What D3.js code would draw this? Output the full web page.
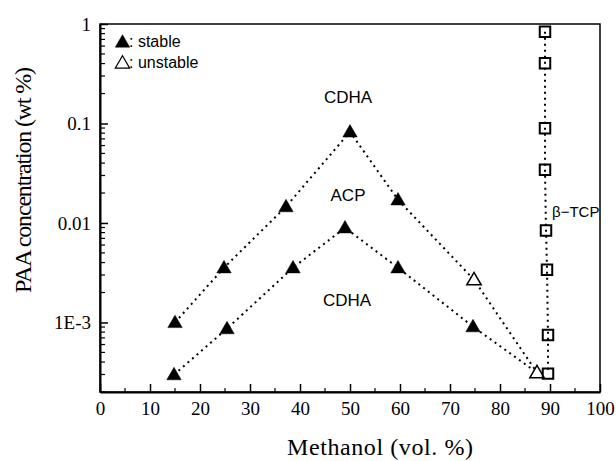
<!DOCTYPE html>
<meta charset="utf-8">
<style>
body { margin: 0; background: #fff; }
.axis text { font: 19px "Liberation Serif", serif; fill: #000; }
.axis path, .axis line { stroke: #000; }
.note { font: 17px "Liberation Sans", Arial, sans-serif; fill: #000; }
.title { font: 24px "Liberation Serif", serif; fill: #000; }
</style>
<svg id="chart"></svg>
<script src="https://d3js.org/d3.v7.min.js"></script>
<script>

// upper boundary (CDHA / ACP)
var methanolUpper = [15, 24.8, 37.2, 50, 59.6, 74.8, 87.4],
    paaUpper = [1e-3, 3.55e-3, 0.0146, 0.0824, 0.0171, 2.69e-3, 3.13e-4],
    stableUpper = [true, true, true, true, true, false, false];

// lower boundary (ACP / CDHA)
var methanolLower = [14.8, 25.4, 38.6, 49, 59.6, 74.6, 87.4],
    paaLower = [2.99e-4, 8.67e-4, 3.55e-3, 8.95e-3, 3.55e-3, 9.07e-4, 3.13e-4],
    stableLower = [true, true, true, true, true, true, false];

// beta-TCP column
var methanolTcp = [89, 89, 89, 89, 89.2, 89.4, 89.6, 89.6],
    paaTcp = [0.837, 0.403, 0.0897, 0.0342, 0.0084, 3.39e-3, 7.5e-4, 3.06e-4];

var xTicks = [0, 10, 20, 30, 40, 50, 60, 70, 80, 90, 100],
    yTicks = [1e-3, 0.01, 0.1, 1],
    yTickLabels = ["1E-3", "0.01", "0.1", "1"];

var width = 616,
    height = 461,
    plotL = 100, plotR = 600, plotT = 24, plotB = 392;

var svg = d3.select("#chart")
    .attr("width", width)
    .attr("height", height);

var x = d3.scaleLinear().domain([0, 100]).range([plotL, plotR]);
var y = d3.scaleLog().domain([2e-4, 1]).range([plotB, plotT]);

// frame
svg.append("rect")
    .attr("x", plotL).attr("y", plotT)
    .attr("width", plotR - plotL).attr("height", plotB - plotT)
    .attr("fill", "none").attr("stroke", "#000").attr("stroke-width", 1.5);

// minor ticks
var xMinor = d3.range(5, 100, 10);
svg.append("g").selectAll("line")
    .data(xMinor)
  .enter().append("line")
    .attr("x1", d => x(d)).attr("x2", d => x(d))
    .attr("y1", plotB).attr("y2", plotB - 4)
    .attr("stroke", "#000").attr("stroke-width", 1.2);

var yMinor = y.ticks().filter(d => yTicks.indexOf(d) < 0);
svg.append("g").selectAll("line")
    .data(yMinor)
  .enter().append("line")
    .attr("x1", plotL).attr("x2", plotL + 5)
    .attr("y1", d => y(d)).attr("y2", d => y(d))
    .attr("stroke", "#000").attr("stroke-width", 1.2);

// axes
svg.append("g")
    .attr("class", "axis")
    .attr("transform", "translate(0," + plotB + ")")
    .call(d3.axisBottom(x).tickValues(xTicks).tickSize(-8).tickSizeOuter(0).tickPadding(10));

svg.append("g")
    .attr("class", "axis")
    .attr("transform", "translate(" + plotL + ",0)")
    .call(d3.axisLeft(y).tickValues(yTicks).tickSize(-8).tickSizeOuter(0).tickPadding(9)
      .tickFormat((d, i) => yTickLabels[i]));

svg.selectAll(".axis .domain").attr("stroke-width", 2);
svg.selectAll(".axis .tick line").attr("stroke-width", 1.5);

// axis titles
svg.append("text")
    .attr("class", "title")
    .attr("x", 380).attr("y", 455)
    .attr("text-anchor", "middle")
    .attr("textLength", 186)
    .text("Methanol (vol. %)");

svg.append("text")
    .attr("class", "title")
    .attr("transform", "translate(31,180) rotate(-90)")
    .attr("text-anchor", "middle")
    .attr("textLength", 226)
    .text("PAA concentration (wt %)");

// dotted lines
var line = d3.line().x(d => x(d[0])).y(d => y(d[1]));

function drawLine(xs, ys) {
  svg.append("path")
      .datum(d3.zip(xs, ys))
      .attr("d", line)
      .attr("fill", "none")
      .attr("stroke", "#000")
      .attr("stroke-width", 2)
      .attr("stroke-dasharray", "2,4");
}
drawLine(methanolUpper, paaUpper);
drawLine(methanolLower, paaLower);
drawLine(methanolTcp, paaTcp);

// markers
var tri = d3.symbol().type(d3.symbolTriangle).size(90);
var sq = d3.symbol().type(d3.symbolSquare).size(110);

function drawTriangles(xs, ys, flags) {
  svg.append("g").selectAll("path")
      .data(d3.zip(xs, ys, flags))
    .enter().append("path")
      .attr("d", tri)
      .attr("transform", d => "translate(" + x(d[0]) + "," + (y(d[1]) + 1) + ")")
      .attr("fill", d => d[2] ? "#000" : "#fff")
      .attr("stroke", "#000")
      .attr("stroke-width", d => d[2] ? 0.5 : 1.5);
}
drawTriangles(methanolUpper, paaUpper, stableUpper);
drawTriangles(methanolLower.slice(0, 6), paaLower.slice(0, 6), stableLower.slice(0, 6));

svg.append("g").selectAll("path")
    .data(d3.zip(methanolTcp, paaTcp))
  .enter().append("path")
    .attr("d", sq)
    .attr("transform", d => "translate(" + x(d[0]) + "," + y(d[1]) + ")")
    .attr("fill", "none")
    .attr("stroke", "#000")
    .attr("stroke-width", 2);

// phase labels
svg.append("text").attr("class", "note").attr("x", 348).attr("y", 103)
    .attr("text-anchor", "middle").text("CDHA");
svg.append("text").attr("class", "note").attr("x", 348).attr("y", 201)
    .attr("text-anchor", "middle").text("ACP");
svg.append("text").attr("class", "note").attr("x", 347).attr("y", 306)
    .attr("text-anchor", "middle").text("CDHA");
svg.append("text").attr("class", "note").attr("x", 552).attr("y", 217)
    .style("font-size", "15px").text("β−TCP");

// legend
var legend = svg.append("g");
legend.append("path").attr("d", tri)
    .attr("transform", "translate(122.5,43)")
    .attr("fill", "#000").attr("stroke", "#000").attr("stroke-width", 0.5);
legend.append("path").attr("d", tri)
    .attr("transform", "translate(122.5,64)")
    .attr("fill", "#fff").attr("stroke", "#000").attr("stroke-width", 1.2);
legend.append("text").attr("class", "note").attr("x", 129).attr("y", 47)
    .style("font-size", "16px").text(": stable");
legend.append("text").attr("class", "note").attr("x", 129).attr("y", 68)
    .style("font-size", "16px").text(": unstable");

</script>
